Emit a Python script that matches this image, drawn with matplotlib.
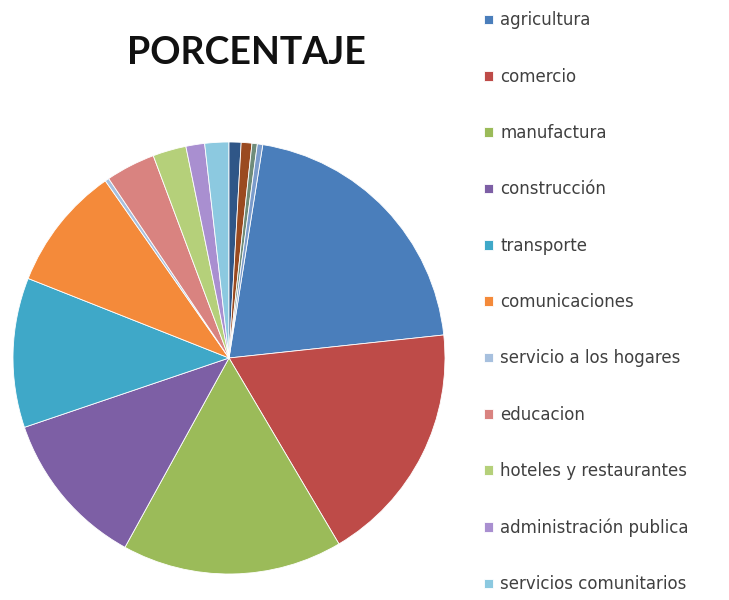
import matplotlib.pyplot as plt

# sectors shown in the legend (legend is cut off after the 11th entry)
sectores = ["agricultura", "comercio", "manufactura", "construcción", "transporte",
            "comunicaciones", "servicio a los hogares", "educacion",
            "hoteles y restaurantes", "administración publica", "servicios comunitarios"]
porcentajes = [20.8, 18.2, 16.5, 11.8, 11.2, 9.3, 0.3, 3.7, 2.5, 1.4, 1.8]

# remaining small slices at the top of the pie (no visible label)
otros = [0.9, 0.8, 0.4, 0.4]

colores = ["#4a7ebb", "#be4b48", "#9bbb59", "#7d5fa5", "#3fa8c8", "#f48a3a",
           "#a7c0de", "#d98380", "#b5d07a", "#a98fd0", "#8cc9e0",
           "#2f5687", "#9a4a20", "#6f8c7a", "#7b9ccc"]

fig = plt.figure(figsize=(7.29, 6), dpi=100)
ax = fig.add_axes([13/729, 26/600, 432/729, 432/600])

valores = porcentajes + otros
wedges, _ = ax.pie(valores, colors=colores, startangle=81, counterclock=False,
                   wedgeprops=dict(linewidth=0.6, edgecolor="white"))
ax.set_xlim(-1, 1)
ax.set_ylim(-1, 1)
ax.set_aspect("equal")

fig.text(246/729, 1 - 53/600, "PORCENTAJE", ha="center", va="center",
         fontsize=27, fontweight="bold", family="Lato", color="#111111")

leg = fig.legend(wedges[:len(sectores)], sectores, loc="upper left",
                 bbox_to_anchor=(476/729, 1 - 3/600), frameon=False,
                 prop=dict(family="DejaVu Sans", size=12), labelcolor="#404040",
                 handlelength=0.5, handleheight=0.5, handletextpad=0.45,
                 labelspacing=2.30, borderpad=0)

fig.savefig("out.png", dpi=100)
